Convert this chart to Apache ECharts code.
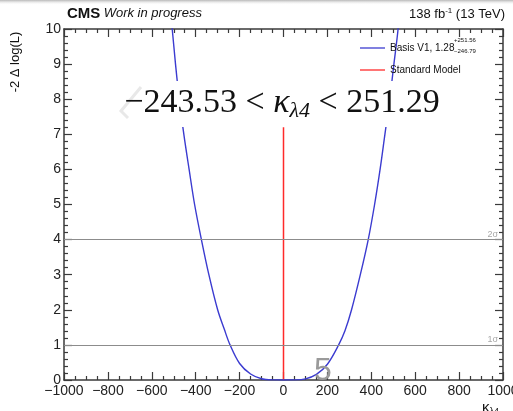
<!DOCTYPE html>
<html>
<head>
<meta charset="utf-8">
<script src="https://cdn.jsdelivr.net/npm/echarts@6/dist/echarts.min.js"></script>
<style>
  html, body { margin: 0; padding: 0; background: #fff; }
  #chart { width: 513px; height: 411px; }
</style>
</head>
<body>
<div id="chart"></div>
<script>
// Likelihood scan in kappa_lambda4: -2 Δ log(L) versus coupling value
const kappaVals = [-540, -507, -492, -475, -454, -430, -405, -374, -340, -300, -270, -243.53,
                   -200, -150, -100, -50, 1.28, 50, 100, 150, 200, 251.29,
                   280, 310, 350, 386, 415, 440, 462, 484, 503, 522, 550];
const nllVals   = [12, 10, 9, 8, 7, 6, 5, 4, 3, 2, 1.45, 1,
                   0.47, 0.17, 0.035, 0.003, 0, 0.003, 0.033, 0.16, 0.45, 1,
                   1.4, 2, 3, 4, 5, 6, 7, 8, 9, 10, 12];

// Standard Model reference (kappa = 0)
const smKappa = 0;
const smRange = [0, 7.2];

// Confidence-level thresholds
const sigmaLevels = [1, 4];
const sigmaLabels = ['1σ', '2σ'];

// Axis ranges and tick steps
const xRange = [-1000, 1000];
const xStep = 200;
const yRange = [0, 10];
const yStep = 1;

// Fit result text
const bestFit = '1.28';
const errUp = '+251.56';
const errDown = '−246.79';
const intervalLow = '−243.53';
const intervalHigh = '251.29';

const curveColor = '#3b3bd0';
const smColor = '#ff2a2a';
const axisColor = '#3a3a3a';
const font = '"Liberation Sans", Arial, sans-serif';
const serif = '"Liberation Serif", "DejaVu Serif", serif';

const curveData = kappaVals.map((k, i) => [k, nllVals[i]]);
const smData = smRange.map(v => [smKappa, v]);

const fmtMinus = v => (v < 0 ? '−' + Math.abs(v) : String(v));

function frameAxis(extra) {
  return Object.assign({
    type: 'value',
    axisLine: { show: true, onZero: false, lineStyle: { color: axisColor, width: 1.5 } },
    axisTick: { show: true, inside: true, length: 8, lineStyle: { color: axisColor, width: 1.2 } },
    splitLine: { show: false }
  }, extra);
}

// Interval annotation, drawn twice: a white backing box, then the glyphs on top
const intervalText = '{t|' + intervalLow + ' < }{k|κ}{s|λ4}{t| < ' + intervalHigh + '}';
function intervalStyle(glyphFill, withBox) {
  return {
    text: intervalText,
    align: 'center', verticalAlign: 'middle',
    backgroundColor: withBox ? '#ffffff' : null,
    padding: [4, 4, 5, 4],
    rich: {
      t: { fontSize: 34, fontFamily: serif, fill: glyphFill },
      k: { fontSize: 34, fontStyle: 'italic', fontFamily: serif, fill: glyphFill },
      s: { fontSize: 22, fontStyle: 'italic', fontFamily: serif, fill: glyphFill, padding: [15, 0, 0, 0] }
    }
  };
}

const chart = echarts.init(document.getElementById('chart'), null, { renderer: 'canvas' });

chart.setOption({
  animation: false,
  backgroundColor: '#ffffff',
  grid: { left: 64, right: 10, top: 29, bottom: 31, containLabel: false, outerBoundsMode: 'none' },
  xAxis: [
    frameAxis({
      min: xRange[0], max: xRange[1], interval: xStep, position: 'bottom',
      minorTick: { show: true, splitNumber: 4, length: 4, lineStyle: { color: axisColor, width: 1.2 } },
      axisLabel: { formatter: fmtMinus, fontSize: 14, color: '#222', margin: 4, fontFamily: font }
    }),
    frameAxis({
      min: xRange[0], max: xRange[1], interval: xStep, position: 'top',
      minorTick: { show: true, splitNumber: 4, length: 4, lineStyle: { color: axisColor, width: 1.2 } },
      axisLabel: { show: false }
    })
  ],
  yAxis: [
    frameAxis({
      min: yRange[0], max: yRange[1], interval: yStep, position: 'left',
      minorTick: { show: true, splitNumber: 5, length: 4, lineStyle: { color: axisColor, width: 1.2 } },
      axisLabel: { fontSize: 14, color: '#222', margin: 3, fontFamily: font }
    }),
    frameAxis({
      min: yRange[0], max: yRange[1], interval: yStep, position: 'right',
      minorTick: { show: true, splitNumber: 5, length: 4, lineStyle: { color: axisColor, width: 1.2 } },
      axisLabel: { show: false }
    })
  ],
  legend: {
    orient: 'vertical',
    left: 355,
    top: 37,
    icon: 'rect',
    itemWidth: 25,
    itemHeight: 1.3,
    itemGap: 10,
    textStyle: { fontSize: 10, color: '#111', fontFamily: font, lineHeight: 12 },
    data: ['Basis V1, ' + bestFit, 'Standard Model']
  },
  series: [
    {
      name: 'Basis V1, ' + bestFit,
      type: 'line',
      data: curveData,
      smooth: 0.35,
      symbol: 'none',
      clip: true,
      z: 3,
      lineStyle: { color: curveColor, width: 1.4 },
      itemStyle: { color: curveColor },
      markLine: {
        silent: true,
        symbol: 'none',
        lineStyle: { color: '#8c8c8c', width: 1, type: 'solid' },
        label: {
          position: 'insideEndTop',
          distance: [5, 1],
          fontSize: 9,
          color: '#a8a8a8',
          fontFamily: font,
          formatter: p => sigmaLabels[sigmaLevels.indexOf(p.value)]
        },
        data: sigmaLevels.map(v => ({ yAxis: v }))
      }
    },
    {
      name: 'Standard Model',
      type: 'line',
      data: smData,
      symbol: 'none',
      z: 2,
      lineStyle: { color: smColor, width: 1.5 },
      itemStyle: { color: smColor }
    }
  ],
  graphic: [
    {
      type: 'rect', left: 0, top: 0, z: 30,
      shape: { width: 513, height: 5 },
      style: {
        fill: new echarts.graphic.LinearGradient(0, 0, 0, 1, [
          { offset: 0, color: '#b8b8b8' },
          { offset: 1, color: 'rgba(255,255,255,0)' }
        ])
      }
    },
    {
      type: 'text', left: 67, top: 6, z: 10,
      style: {
        text: '{b|CMS} {i|Work in progress}',
        rich: {
          b: { fontSize: 15, fontWeight: 'bold', fontFamily: font, fill: '#111' },
          i: { fontSize: 13, fontStyle: 'italic', fontFamily: font, fill: '#111' }
        }
      }
    },
    {
      type: 'text', right: 8, top: 7, z: 10,
      style: {
        text: '{n|138 fb}{s|-1}{n| (13 TeV)}',
        rich: {
          n: { fontSize: 13, fontFamily: font, fill: '#111' },
          s: { fontSize: 8, fontFamily: font, fill: '#111', padding: [0, 0, 7, 0] }
        }
      }
    },
    {
      type: 'text', x: 15, y: 62, rotation: Math.PI / 2, z: 10,
      style: {
        text: '-2 Δ log(L)', fontSize: 13, fontFamily: font, fill: '#111',
        align: 'center', verticalAlign: 'middle'
      }
    },
    {
      type: 'text', x: 482, y: 399, z: 10,
      style: {
        text: '{k|κ}{s|λ4}',
        rich: {
          k: { fontSize: 15, fontFamily: font, fill: '#111' },
          s: { fontSize: 9, fontFamily: font, fill: '#111', padding: [8, 0, 0, 0] }
        }
      }
    },
    {
      type: 'text', x: 454, y: 37, z: 10,
      style: { text: errUp, fontSize: 6, fontFamily: font, fill: '#111' }
    },
    {
      type: 'text', x: 454, y: 48, z: 10,
      style: { text: errDown, fontSize: 6, fontFamily: font, fill: '#111' }
    },
    {
      type: 'text', x: 282, y: 104, z: 19, silent: true,
      style: intervalStyle('rgba(0,0,0,0)', true)
    },
    {
      type: 'polyline', z: 20,
      shape: { points: [[141, 87], [121, 111], [128, 118]] },
      style: { stroke: '#e8e8e8', lineWidth: 3, fill: null }
    },
    {
      type: 'text', x: 282, y: 104, z: 21,
      style: intervalStyle('#111', false)
    },
    {
      type: 'text', x: 314, y: 355, z: 5,
      style: { text: '5', fontSize: 32, fontFamily: font, fill: '#9a9a9a' }
    }
  ]
});
</script>
</body>
</html>
